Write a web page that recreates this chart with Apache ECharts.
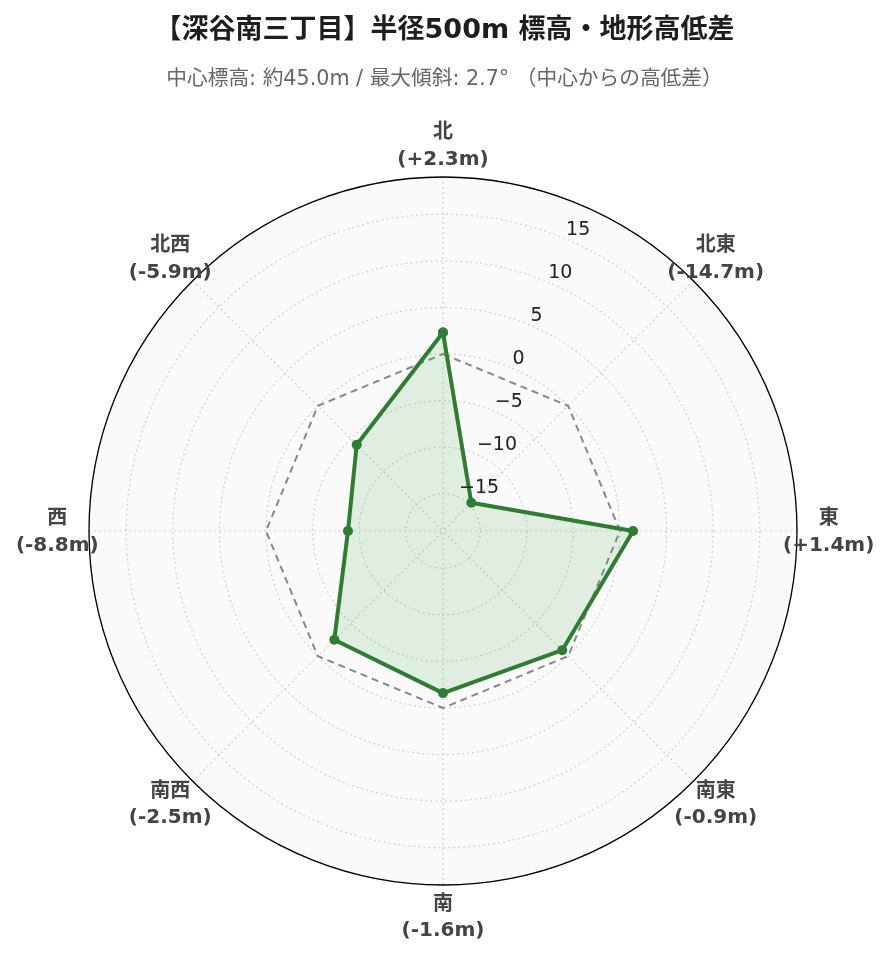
<!DOCTYPE html>
<html>
<head>
<meta charset="utf-8">
<script src="https://cdn.jsdelivr.net/npm/echarts@6/dist/echarts.min.js"></script>
<style>
html,body{margin:0;padding:0;background:#fff;}
#chart{width:889px;height:962px;}
</style>
</head>
<body>
<div id="chart"></div>
<script>
// ---- data ----
const directions = ['北', '北東', '東', '南東', '南', '南西', '西', '北西'];
const elevationDiff = [2.3, -14.7, 1.4, -0.9, -1.6, -2.5, -8.8, -5.9];
const referenceLevel = [0, 0, 0, 0, 0, 0, 0, 0];
const radialTicks = [-15, -10, -5, 0, 5, 10, 15];
const titleText = '【深谷南三丁目】半径500m 標高・地形高低差';
const subtitleText = '中心標高: 約45.0m / 最大傾斜: 2.7° （中心からの高低差）';

// ---- layout constants ----
const RMAX = 19;
const LABEL_R = 22.4;
const CENTER = [443, 531];
const RADIUS = 354;
const STEP = 360 / directions.length;
const FONT = "'DejaVu Sans', 'Noto Sans CJK JP'";

function closed(arr) {
  const d = arr.map((v, i) => [v, i * STEP]);
  d.push([arr[0], 360]);
  return d;
}
function fmtDiff(v) {
  return '(' + (v > 0 ? '+' : '') + v.toFixed(1) + 'm)';
}

const gridLine = { color: '#d0d0d0', type: [2, 3], width: 1.2 };
const hidden = { axisLine: { show: false }, axisTick: { show: false }, axisLabel: { show: false }, splitLine: { show: false } };

const chart = echarts.init(document.getElementById('chart'));
chart.setOption({
  backgroundColor: '#ffffff',
  animation: false,
  title: [
    { text: titleText, left: 'center', top: 12,
      textStyle: { fontFamily: FONT, fontSize: 27, fontWeight: 'bold', color: '#1e1e1e' } },
    { text: subtitleText, left: 'center', top: 64,
      textStyle: { fontFamily: FONT, fontSize: 20.7, fontWeight: 'normal', color: '#666666' } }
  ],
  polar: [
    { center: CENTER, radius: RADIUS },
    { center: CENTER, radius: RADIUS },
    { center: CENTER, radius: RADIUS }
  ],
  angleAxis: [
    // grid spokes
    Object.assign({}, hidden, { polarIndex: 0, type: 'value', min: 0, max: 360, interval: STEP, startAngle: 90, clockwise: true, z: 1,
      splitLine: { show: true, lineStyle: gridLine } }),
    // outer circle (also sets the angle of the radial tick labels)
    Object.assign({}, hidden, { polarIndex: 1, type: 'value', min: 0, max: 360, interval: STEP, startAngle: 67.5, clockwise: true, z: 2,
      axisLine: { show: true, lineStyle: { color: '#000', width: 1.3 } } }),
    // background disk
    Object.assign({}, hidden, { polarIndex: 2, type: 'value', min: 0, max: 360, interval: STEP, startAngle: 90, clockwise: true, z: 0,
      splitArea: { show: true, areaStyle: { color: ['#fafafa', '#fafafa'] } } })
  ],
  radiusAxis: [
    Object.assign({}, hidden, { polarIndex: 0, type: 'value', min: -RMAX, max: RMAX, splitNumber: 7, z: 1,
      splitLine: { show: true, showMaxLine: false, showMinLine: false, lineStyle: gridLine } }),
    Object.assign({}, hidden, { polarIndex: 1, type: 'value', min: -RMAX, max: RMAX, splitNumber: 7, z: 6,
      axisLabel: { show: true, margin: -2, align: 'left', verticalAlign: 'bottom',
        fontFamily: 'DejaVu Sans', fontSize: 19, color: '#222',
        formatter: function (v) {
          const r = Math.round(v);
          if (Math.abs(v - r) > 1e-6 || radialTicks.indexOf(r) < 0) return '';
          return r < 0 ? '\u2212' + Math.abs(r) : String(r);
        } } }),
    Object.assign({}, hidden, { polarIndex: 2, type: 'value', min: -RMAX, max: RMAX, z: 0 })
  ],
  series: [
    { name: 'base', type: 'line', coordinateSystem: 'polar', polarIndex: 0, clip: false,
      data: closed(referenceLevel), symbol: 'none', z: 3,
      lineStyle: { color: '#888888', width: 2, type: [7, 5] } },
    { name: 'diff', type: 'line', coordinateSystem: 'polar', polarIndex: 0, clip: false,
      data: closed(elevationDiff), symbol: 'circle', symbolSize: 10, z: 4,
      itemStyle: { color: '#2e7d32' },
      lineStyle: { color: '#2e7d32', width: 4 },
      areaStyle: { color: 'rgba(76,175,80,0.15)', opacity: 1, origin: 'start' } },
    { name: 'labels', type: 'scatter', coordinateSystem: 'polar', polarIndex: 0, clip: false,
      data: directions.map((d, i) => [LABEL_R, i * STEP]), z: 5,
      symbolSize: 1, itemStyle: { color: 'rgba(0,0,0,0)', opacity: 1 }, silent: true,
      label: { show: true, position: 'inside', color: '#444', opacity: 1,
        formatter: function (p) {
          return '{a|' + directions[p.dataIndex] + '}\n{b|' + fmtDiff(elevationDiff[p.dataIndex]) + '}';
        },
        rich: {
          a: { fontFamily: 'Noto Sans CJK JP', fontSize: 20, fontWeight: 'bold', color: '#444', lineHeight: 29, align: 'center' },
          b: { fontFamily: 'DejaVu Sans', fontSize: 20, fontWeight: 'bold', color: '#444', lineHeight: 29, align: 'center' }
        } } }
  ]
});
</script>
</body>
</html>
